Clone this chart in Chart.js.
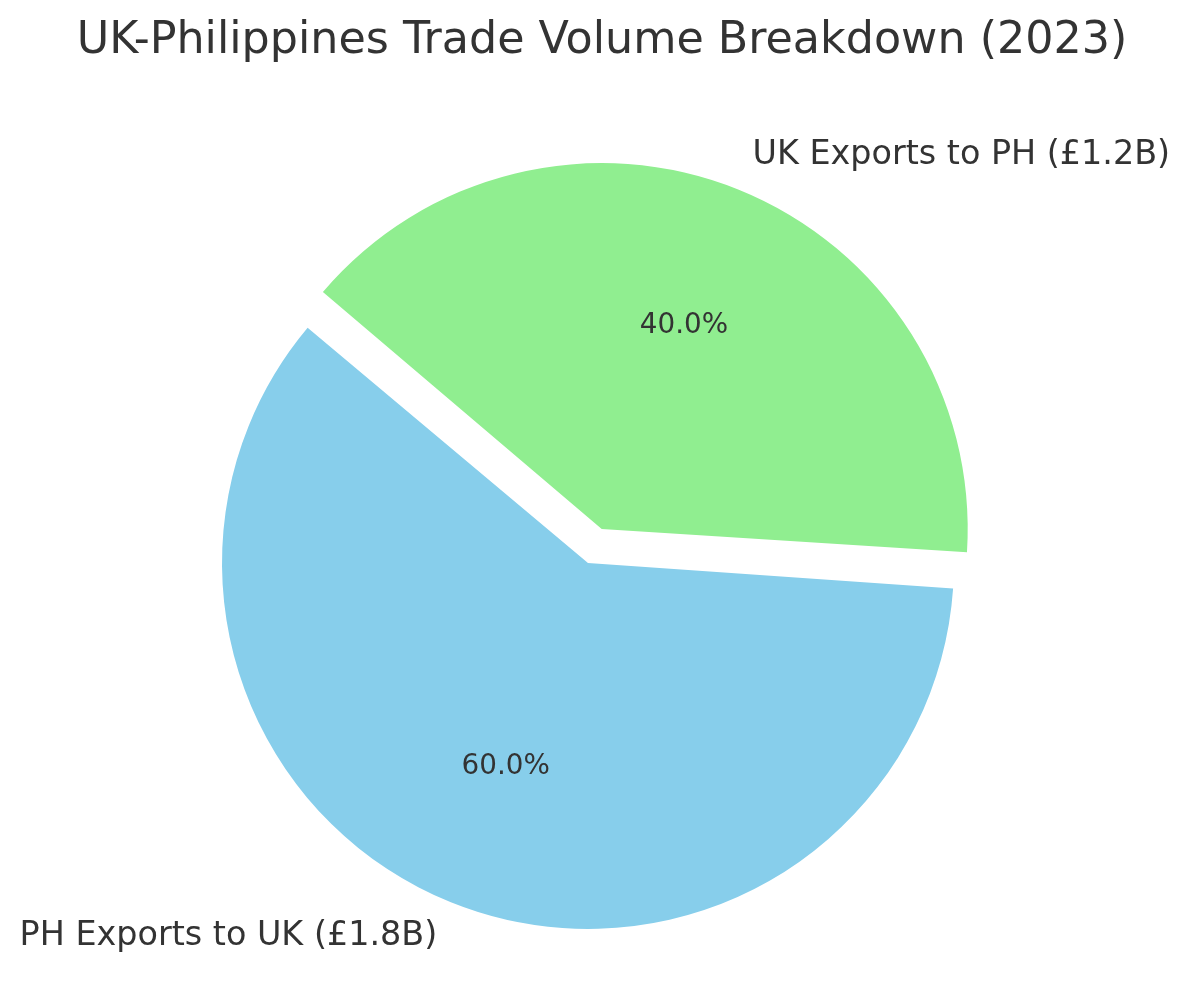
<!DOCTYPE html>
<html>
<head>
<meta charset="utf-8">
<script src="https://cdn.jsdelivr.net/npm/chart.js@4.4.0/dist/chart.umd.min.js"></script>
<style>
  html, body { margin: 0; padding: 0; background: #fff; }
  #wrap { width: 1190px; height: 1007px; }
</style>
</head>
<body>
<div id="wrap"><canvas id="pie"></canvas></div>
<script>
// data (green slice first so the clockwise drawing matches the picture)
var labels = ["UK Exports to PH (£1.2B)", "PH Exports to UK (£1.8B)"];
var values = [1.2, 1.8];
var colors = ["#90EE90", "#87CEEB"];
var explode = [0.1, 0];

var chartTitle = "UK-Philippines Trade Volume Breakdown (2023)";
var RADIUS = 366;
var textColor = "#333333";
var fontName = "'DejaVu Sans', sans-serif";

// chart.js moves an arc by offset/4, so scale up
var offsets = explode.map(function(e){ return e * RADIUS * 4; });

var pieText = {
    id: 'pieText',
    beforeDatasetsDraw: function(chart) {
        // keep exploded slices at the same radius
        var meta = chart.getDatasetMeta(0);
        var R = meta.controller.outerRadius;
        meta.data.forEach(function(arc, i) {
            var circ = arc.endAngle - arc.startAngle;
            var fix = 1 - Math.sin(Math.min(Math.PI, circ));
            arc.outerRadius = R - (offsets[i] / 4) * fix;
        });
    },
    afterDraw: function(chart) {
        var ctx = chart.ctx;
        var meta = chart.getDatasetMeta(0);
        var R = meta.controller.outerRadius;
        var total = values.reduce(function(a, b){ return a + b; }, 0);
        ctx.save();
        ctx.fillStyle = textColor;
        ctx.textBaseline = 'middle';

        ctx.font = '44.4px ' + fontName;
        ctx.textAlign = 'center';
        ctx.fillText(chartTitle, 602, 41);

        meta.data.forEach(function(arc, i) {
            var mid = (arc.startAngle + arc.endAngle) / 2;
            var cx = arc.x + Math.cos(mid) * offsets[i] / 4;
            var cy = arc.y + Math.sin(mid) * offsets[i] / 4;

            ctx.font = '27.8px ' + fontName;
            ctx.textAlign = 'center';
            var pct = (values[i] / total * 100).toFixed(1) + '%';
            ctx.fillText(pct, cx + Math.cos(mid) * R * 0.6, cy + Math.sin(mid) * R * 0.6);

            ctx.font = '33.4px ' + fontName;
            ctx.textAlign = Math.cos(mid) >= 0 ? 'left' : 'right';
            ctx.fillText(labels[i], cx + Math.cos(mid) * R * 1.1, cy + Math.sin(mid) * R * 1.1);
        });
        ctx.restore();
    }
};

new Chart(document.getElementById('pie'), {
    type: 'pie',
    data: {
        labels: labels,
        datasets: [{
            data: values,
            backgroundColor: colors,
            borderWidth: 0,
            offset: offsets,
            hoverOffset: 0,
            radius: RADIUS
        }]
    },
    options: {
        responsive: true,
        maintainAspectRatio: false,
        animation: false,
        events: [],
        rotation: -50,
        layout: { padding: { left: 0, right: 14, top: 119, bottom: 0 } },
        plugins: { legend: { display: false }, title: { display: false }, tooltip: { enabled: false } }
    },
    plugins: [pieText]
});
</script>
</body>
</html>
